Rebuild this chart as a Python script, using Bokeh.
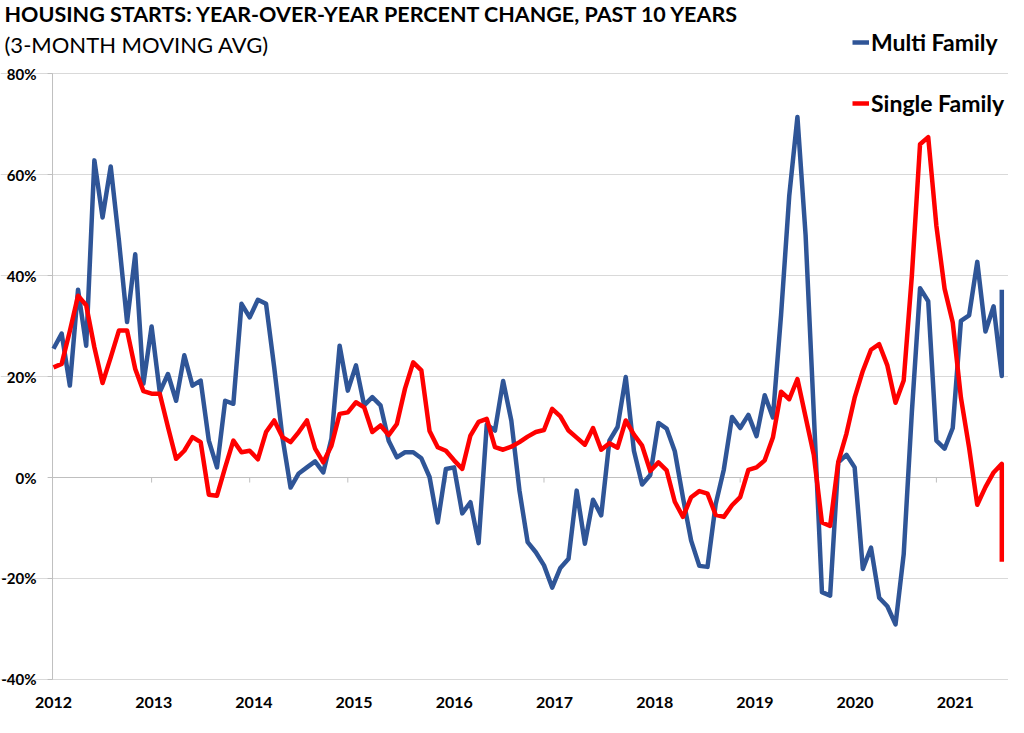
import pandas as pd
from bokeh.plotting import figure
from bokeh.models import (Range1d, LinearAxis, FixedTicker, Grid, Legend, LegendItem, Label)
from bokeh.core.properties import value
from bokeh.embed import file_html
from bokeh.resources import INLINE

title_text = "HOUSING STARTS: YEAR-OVER-YEAR PERCENT CHANGE, PAST 10 YEARS"
subtitle_text = "(3-MONTH MOVING AVG)"
series_names = ["Multi Family", "Single Family"]

# Monthly observations Jan 2012 .. Sep 2021; the final value shares the Sep 2021 slot
months = [d.strftime("%Y-%m") for d in pd.date_range("2012-01-01", "2021-09-01", freq="MS")] + ["2021-09"]

multi_family = [
    25.5, 28.5, 18.2, 37.2, 26.1, 62.8, 51.5, 61.6, 47.0, 30.8, 44.2, 18.6,
    29.9, 16.9, 20.5, 15.2, 24.2, 18.2, 19.2, 7.3, 2.0, 15.2, 14.6, 34.4,
    31.7, 35.2, 34.4, 21.8, 8.0, -2.0, 0.8, 2.0, 3.2, 1.0, 7.7, 26.1,
    17.2, 22.2, 14.3, 15.9, 14.3, 7.3, 4.0, 5.0, 5.0, 3.8, 0.1, -8.9,
    1.7, 2.0, -7.1, -4.9, -13.0, 10.5, 9.3, 19.1, 11.3, -2.6, -12.8, -14.8,
    -17.4, -21.8, -17.9, -16.1, -2.6, -13.1, -4.4, -7.5, 7.3, 10.0, 19.9, 5.3,
    -1.4, 0.5, 10.8, 9.7, 5.2, -4.0, -12.5, -17.5, -17.7, -5.3, 1.6, 12.0,
    9.8, 12.4, 8.2, 16.3, 11.9, 32.2, 55.8, 71.4, 48.0, 12.8, -22.7, -23.4,
    3.0, 4.5, 2.0, -18.1, -13.9, -23.8, -25.5, -29.1, -15.2, 13.0, 37.5, 34.9,
    7.3, 5.7, 9.8, 31.0, 32.1, 42.7, 28.9, 33.9, 20.1, 37.2,
]

single_family = [
    21.8, 22.5, 29.0, 36.0, 34.1, 25.8, 18.7, 23.8, 29.1, 29.1, 21.5, 17.1,
    16.6, 16.6, 10.0, 3.7, 5.3, 8.0, 7.0, -3.4, -3.6, 2.0, 7.3, 5.0,
    5.3, 3.6, 9.0, 11.3, 8.0, 7.0, 9.0, 11.3, 5.7, 3.0, 6.3, 12.6,
    12.9, 14.9, 13.9, 9.0, 10.3, 8.4, 10.6, 17.6, 22.8, 21.2, 9.2, 6.0,
    5.3, 3.4, 1.7, 8.3, 11.0, 11.6, 6.0, 5.5, 6.1, 7.0, 8.1, 9.0,
    9.4, 13.6, 12.1, 9.3, 7.9, 6.5, 9.8, 5.5, 6.8, 5.9, 11.3, 8.5,
    6.3, 1.3, 3.0, 1.4, -4.8, -7.8, -3.9, -2.7, -3.2, -7.4, -7.8, -5.5,
    -3.9, 1.5, 2.0, 3.4, 7.9, 17.0, 15.5, 19.5, 12.0, 4.5, -8.9, -9.6,
    3.1, 8.7, 15.8, 21.1, 25.3, 26.4, 22.2, 14.8, 19.2, 40.0, 66.0, 67.4,
    49.8, 37.4, 30.7, 15.8, 5.9, -5.4, -1.9, 1.0, 2.7, -16.7,
]

years = list(range(2012, 2022))
y_ticks = [-40, -20, 0, 20, 40, 60, 80]
y_tick_labels = [f"{t}%" for t in y_ticks]

FONT = "Lato"
BLUE = "#2f5597"
RED = "#ff0000"
AXIS_GRAY = "#bfbfbf"
GRID_GRAY = "#d9d9d9"

# month index on x
x_idx = [(int(m[:4]) - years[0]) * 12 + int(m[5:7]) - 1 for m in months]

AXIS_X = -0.12          # value axis sits just left of the first month
X_END = 116.09          # right edge of the gridded plot area

p = figure(width=1008, height=717, output_backend="svg", toolbar_location=None,
           x_range=Range1d(-6.483, 116.82), y_range=Range1d(-42.18, 94.46),
           x_axis_location=None, y_axis_location=None, title=None,
           min_border_left=0, min_border_right=0, min_border_top=0, min_border_bottom=27)
p.outline_line_color = None
p.background_fill_color = "white"
p.border_fill_color = "white"
p.grid.visible = False

# horizontal gridlines between the value axis and the right edge
p.add_layout(Grid(dimension=1, ticker=FixedTicker(ticks=[t for t in y_ticks if t != 0]),
                  bounds=(AXIS_X, X_END), grid_line_color=GRID_GRAY, grid_line_width=1))

# year labels (spaced slightly wider than the data ticks, as in the source)
p.extra_x_ranges = {"lbl": Range1d(-0.529, 9.531)}
lbl_axis = LinearAxis(x_range_name="lbl", ticker=FixedTicker(ticks=list(range(len(years)))),
                      major_label_overrides={i: str(y) for i, y in enumerate(years)},
                      axis_line_color=None, major_tick_line_color=None, minor_tick_line_color=None,
                      major_label_standoff=0, major_label_text_font=FONT,
                      major_label_text_font_size="16px", major_label_text_font_style="bold",
                      major_label_text_color="#000000")
p.add_layout(lbl_axis, "below")

# value axis: line, outward ticks, labels
p.segment(x0=[AXIS_X], y0=[min(y_ticks)], x1=[AXIS_X], y1=[max(y_ticks)],
          line_color=AXIS_GRAY, line_width=1)
p.segment(x0=[AXIS_X - 0.6] * len(y_ticks), y0=y_ticks, x1=[AXIS_X] * len(y_ticks), y1=y_ticks,
          line_color=AXIS_GRAY, line_width=1)
p.text(x=[AXIS_X] * len(y_ticks), y=y_ticks, text=y_tick_labels, x_offset=-16,
       text_align="right", text_baseline="middle", text_font=value(FONT),
       text_font_style="bold", text_font_size="15px", text_color="#000000")

# horizontal category axis crossing at 0%, with year tick marks
p.segment(x0=[AXIS_X], y0=[0], x1=[X_END], y1=[0], line_color=AXIS_GRAY, line_width=1)
year_x = [(y - years[0]) * 12 for y in years[1:]]
p.segment(x0=year_x, y0=[0] * len(year_x), x1=year_x, y1=[-1.0] * len(year_x),
          line_color=AXIS_GRAY, line_width=1)

bl = p.line(x_idx, multi_family, line_color=BLUE, line_width=4.5, line_join="round")
rl = p.line(x_idx, single_family, line_color=RED, line_width=4.5, line_join="round")

legend = Legend(items=[LegendItem(label=series_names[0], renderers=[bl]),
                       LegendItem(label=series_names[1], renderers=[rl])],
                location=(852, 573), orientation="vertical",
                glyph_width=17, glyph_height=28, label_height=28, spacing=33,
                padding=0, margin=0, border_line_color=None, background_fill_alpha=0,
                label_standoff=2, label_text_font=FONT, label_text_font_style="bold",
                label_text_font_size="23px", label_text_color="#000000")
p.add_layout(legend)

p.add_layout(Label(x=4, y=677, x_units="screen", y_units="screen", text=title_text,
                   text_font=FONT, text_font_size="21.5px", text_font_style="bold",
                   text_color="#000000", text_baseline="alphabetic"))
p.add_layout(Label(x=4, y=646, x_units="screen", y_units="screen", text=subtitle_text,
                   text_font=FONT, text_font_size="22px", text_font_style="normal",
                   text_color="#000000", text_baseline="alphabetic"))

open("out.html", "w").write(file_html(p, INLINE))
